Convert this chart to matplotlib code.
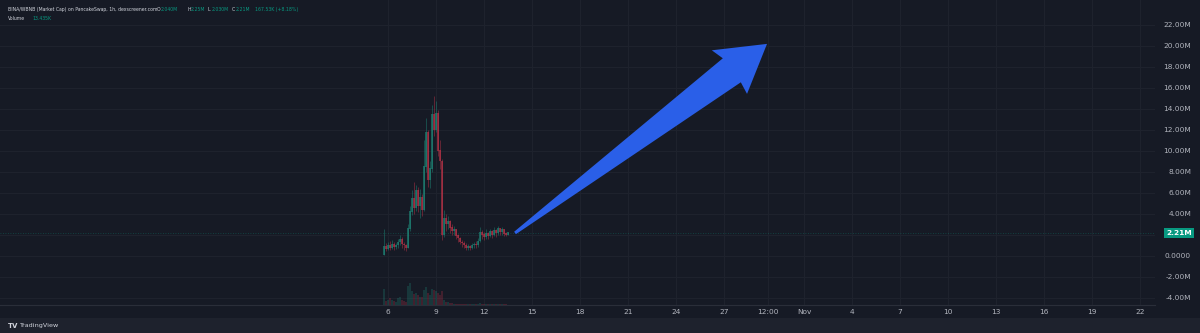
import numpy as np
import matplotlib.pyplot as plt
from matplotlib.patches import Polygon

# BINA/WBNB market cap, 3h candles, values in millions, x in days of October
start_day = 5.75
step = 0.125
first_open = 0.05
close = [0.9, 0.7, 1.0, 0.8, 1.1, 0.9, 1.0, 1.3, 1.6, 1.1,
         1.0, 0.8, 2.6, 4.2, 5.5, 4.6, 6.2, 4.8, 5.6, 4.4,
         8.5, 11.8, 7.2, 8.3, 13.5, 12.0, 13.6, 10.0, 9.0, 2.0,
         3.6, 3.0, 3.3, 2.7, 2.4, 2.5, 1.9, 1.7, 1.3, 1.2,
         1.0, 0.8, 0.9, 0.8, 1.0, 1.1, 1.0, 1.4, 2.2, 2.0,
         1.8, 2.1, 1.9, 2.3, 2.0, 2.4, 2.2, 2.6, 2.3, 2.5,
         2.1, 2.04, 2.21]
high = [2.6, 1.2, 1.3, 1.4, 1.5, 1.3, 1.2, 1.6, 2.0, 1.8,
        1.3, 1.1, 3.0, 4.8, 6.3, 7.0, 6.8, 6.6, 6.4, 5.9,
        11.0, 13.1, 12.0, 9.0, 14.4, 15.2, 14.8, 13.9, 11.0, 9.2,
        4.4, 4.0, 3.8, 3.4, 3.0, 2.9, 2.6, 2.1, 1.8, 1.5,
        1.4, 1.2, 1.1, 1.0, 1.2, 1.3, 1.4, 1.7, 2.8, 2.5,
        2.3, 2.6, 2.3, 2.6, 2.5, 2.8, 2.6, 2.9, 2.7, 2.8,
        2.6, 2.3, 2.25]
low = [0.05, 0.5, 0.6, 0.6, 0.7, 0.6, 0.7, 0.8, 1.0, 0.8,
       0.6, 0.5, 0.8, 2.4, 3.9, 4.0, 4.3, 4.2, 3.6, 3.8,
       4.3, 8.0, 6.6, 6.5, 8.0, 11.4, 11.8, 9.5, 8.3, 1.5,
       1.8, 2.4, 2.6, 2.2, 2.0, 2.0, 1.6, 1.3, 1.1, 0.9,
       0.8, 0.6, 0.6, 0.6, 0.7, 0.8, 0.8, 0.9, 1.3, 1.6,
       1.5, 1.6, 1.6, 1.8, 1.7, 1.9, 1.8, 2.0, 2.0, 2.0,
       1.9, 1.9, 2.03]
volume = [600, 150, 200, 250, 200, 150, 120, 250, 300, 200,
          150, 120, 700, 800, 500, 400, 450, 350, 300, 300,
          550, 650, 450, 350, 600, 550, 500, 450, 350, 500,
          200, 120, 100, 80, 60, 50, 45, 40, 35, 30,
          30, 25, 25, 20, 20, 25, 25, 30, 80, 50,
          40, 40, 35, 40, 35, 40, 35, 40, 30, 35,
          30, 25, 13]

grid_values = [22, 20, 18, 16, 14, 12, 10, 8, 6, 4, 2, 0, -2, -4]
price_ticks = [22, 20, 18, 16, 14, 12, 10, 8, 6, 4, 0, -2, -4]
price_labels = ['22.00M', '20.00M', '18.00M', '16.00M', '14.00M', '12.00M', '10.00M',
                '8.00M', '6.00M', '4.00M', '0.0000', '-2.00M', '-4.00M']
time_ticks = [6, 9, 12, 15, 18, 21, 24, 27, 29.75, 32, 35, 38, 41, 44, 47, 50, 53]
time_labels = ['6', '9', '12', '15', '18', '21', '24', '27', '12:00', 'Nov',
               '4', '7', '10', '13', '16', '19', '22']
last_price = 2.21
arrow_tail = (13.94, 2.19)
arrow_tip = (29.69, 20.2)

bg = '#161a25'
grid_c = '#1e222d'
text_c = '#b2b5be'
up_c = '#1f8f7e'
down_c = '#c8354a'
green = '#089981'

fig = plt.figure(figsize=(12, 3.33), dpi=100, facecolor=bg)
ax = fig.add_axes([0, 1 - 305 / 333, 1155 / 1200, 305 / 333])
ax.set_facecolor(bg)
ax.set_xlim(-18.25, 53.94)
ax.set_ylim(-4.67, 24.38)

for v in grid_values:
    ax.axhline(v, color=grid_c, lw=0.8, zorder=0)
for t in time_ticks:
    ax.axvline(t, color=grid_c, lw=0.8, zorder=0)

# volume overlay
ax2 = ax.twinx()
ax2.set_ylim(0, max(volume) * 14)
ax2.axis('off')

opens = [first_open] + close[:-1]
days = [start_day + i * step for i in range(len(close))]
for d, o, h, l, c, vol in zip(days, opens, high, low, close, volume):
    col = up_c if c >= o else down_c
    ax.vlines(d, l, h, color=col, lw=0.5, alpha=0.6, zorder=3)
    ax.bar(d, abs(c - o) + 0.05, bottom=min(o, c), width=0.07, color=col, alpha=0.6, zorder=3, lw=0)
    ax2.bar(d, vol, width=0.11, color=col, alpha=0.25, lw=0)

# last price line + badge
ax.axhline(last_price, color=green, lw=0.6, ls=(0, (1, 2)), alpha=0.4, zorder=1)

for s in ax.spines.values():
    s.set_visible(False)
ax.spines['bottom'].set_visible(True)
ax.spines['bottom'].set_color('#2a2e39')
ax.spines['bottom'].set_linewidth(0.8)

ax.yaxis.tick_right()
ax.set_yticks(price_ticks)
ax.set_yticklabels(price_labels, fontsize=5.3, color=text_c, ha='right')
ax.tick_params(axis='y', length=0, pad=26)
ax.set_xticks(time_ticks)
ax.set_xticklabels(time_labels, fontsize=5.3, color=text_c)
ax.tick_params(axis='x', length=0, pad=3)

ax.text(1.032, last_price, '2.21M', transform=ax.get_yaxis_transform(), fontsize=5.3,
        color='white', ha='right', va='center', fontweight='bold',
        bbox=dict(boxstyle='square,pad=0.25', fc=green, ec='none'))

# big arrow, drawn in pixel space around the tail->tip axis
p0 = ax.transData.transform(arrow_tail)
p1 = ax.transData.transform(arrow_tip)
u = (p1 - p0) / np.linalg.norm(p1 - p0)
n = np.array([-u[1], u[0]])
L = np.linalg.norm(p1 - p0)
shape = [(0, 1.5), (L - 44, 15), (L - 48, 28), (L, 0), (L - 46, -28), (L - 44, -15), (0, -1.5)]
pts = [p0 + a * u + b * n for a, b in shape]
pts = ax.transData.inverted().transform(pts)
ax.add_patch(Polygon(pts, closed=True, fc='#2a5fe8', ec='none', zorder=5))

# header legend
def put(x, y, s, c):
    fig.text(x / 1200, 1 - y / 333, s, fontsize=3.3, color=c, va='center')

put(8, 9.5, 'BINA/WBNB (Market Cap) on PancakeSwap, 1h, dexscreener.com', '#d1d4dc')
put(157, 9.5, 'O', '#d1d4dc')
put(161, 9.5, '2.040M', green)
put(187, 9.5, 'H', '#d1d4dc')
put(191, 9.5, '2.25M', green)
put(208, 9.5, 'L', '#d1d4dc')
put(212, 9.5, '2.030M', green)
put(232, 9.5, 'C', '#d1d4dc')
put(236, 9.5, '2.21M', green)
put(255, 9.5, '167.53K (+8.18%)', green)
put(8, 19, 'Volume', '#d1d4dc')
put(32, 19, '13.435K', green)

# footer
fig.patches.append(plt.Rectangle((0, 0), 1, 1 - 318 / 333, transform=fig.transFigure,
                                 fc='#1e222d', ec='none'))
fig.text(8 / 1200, 1 - 326 / 333, 'TV', fontsize=5, color='#d1d4dc', fontweight='bold', va='center')
fig.text(19 / 1200, 1 - 326 / 333, 'TradingView', fontsize=4.6, color='#d1d4dc', va='center')

fig.savefig('out.png', dpi=100, facecolor=bg)
